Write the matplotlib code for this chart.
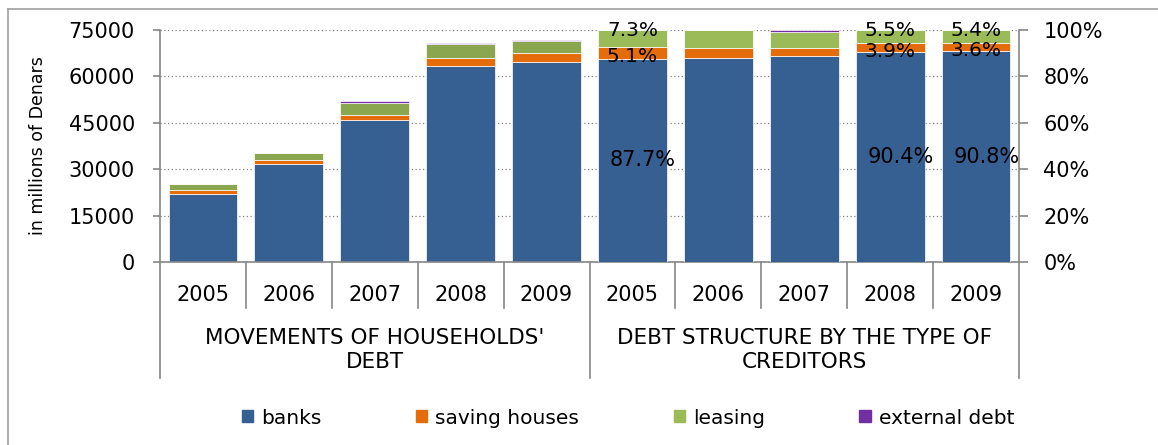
import matplotlib
matplotlib.use("Agg")
import matplotlib.pyplot as plt
from matplotlib.lines import Line2D
from matplotlib.patches import Patch
import matplotlib.transforms as mtransforms

years = ["2005", "2006", "2007", "2008", "2009"]
groups = ["MOVEMENTS OF HOUSEHOLDS'\nDEBT", "DEBT STRUCTURE BY THE TYPE OF\nCREDITORS"]
series = ["banks", "saving houses", "leasing", "external debt"]

# left part, millions of denars
banks_abs = [22000, 31600, 46000, 63300, 64600]
saving_abs = [1400, 1400, 1650, 2700, 2900]
leasing_abs = [1800, 2200, 3650, 4400, 3900]
external_abs = [50, 100, 750, 450, 300]

# right part, shares in %
banks_pct = [87.7, 88.0, 88.7, 90.4, 90.8]
saving_pct = [5.1, 4.4, 3.7, 3.9, 3.6]
leasing_pct = [7.3, 7.5, 6.9, 5.5, 5.4]
external_pct = [0.0, 0.1, 0.7, 0.2, 0.2]

# which shares get a label
labels_pct = {
    0: (87.7, 5.1, 7.3),
    3: (90.4, 3.9, 5.5),
    4: (90.8, 3.6, 5.4),
}

C_BANKS = "#376092"
C_SAVING = "#E46C0A"
C_LEASING_L = "#8AA64F"
C_LEASING_R = "#9BBB59"
C_EXTERNAL = "#7030A0"
GRAY = "#868686"

W, H = 1158, 445
fig = plt.figure(figsize=(W / 100, H / 100), dpi=100)
ax = fig.add_axes([160 / W, 1 - 262 / H, (1019 - 160) / W, 232 / H])
ax2 = ax.twinx()

x_left = list(range(5))
x_right = [i + 5 for i in range(5)]
bw = 0.8
ek = dict(edgecolor="white", linewidth=0.5)

bottom = [0] * 5
for vals, col in [(banks_abs, C_BANKS), (saving_abs, C_SAVING),
                  (leasing_abs, C_LEASING_L), (external_abs, C_EXTERNAL)]:
    ax.bar(x_left, vals, bw, bottom=bottom, color=col, **ek)
    bottom = [b + v for b, v in zip(bottom, vals)]

bottom = [0] * 5
for vals, col in [(banks_pct, C_BANKS), (saving_pct, C_SAVING),
                  (leasing_pct, C_LEASING_R), (external_pct, C_EXTERNAL)]:
    ax2.bar(x_right, vals, bw, bottom=bottom, color=col, **ek)
    bottom = [b + v for b, v in zip(bottom, vals)]

for i, (b, s, l) in labels_pct.items():
    x = x_right[i]
    ax2.text(x + 0.12, b / 2, f"{b}%", ha="center", va="center", fontsize=15)
    ax2.text(x, b + s / 2 - 1.5, f"{s}%", ha="center", va="center", fontsize=14.5)
    ax2.text(x, 99.6, f"{l}%", ha="center", va="center", fontsize=14.5)

ax.set_xlim(-0.5, 9.5)
ax.set_ylim(0, 75000)
ax2.set_ylim(0, 100)
ax.set_yticks(range(0, 75001, 15000))
ax2.set_yticks(range(0, 101, 20))
ax2.set_yticklabels([f"{v}%" for v in range(0, 101, 20)])
ax.set_xticks([])

ax.grid(axis="y", color="#808080", linestyle=(0, (1, 2)), linewidth=0.9)
ax.set_axisbelow(True)

for a in (ax, ax2):
    a.spines["top"].set_visible(False)
    for s in a.spines.values():
        s.set_color(GRAY)
        s.set_linewidth(1.2)
ax.spines["right"].set_visible(False)
ax2.spines["left"].set_visible(False)
ax2.spines["bottom"].set_visible(False)

ax.tick_params(axis="y", length=5, width=1.2, color=GRAY, labelsize=15, pad=13)
ax2.tick_params(axis="y", length=6.5, width=1.2, color=GRAY, labelsize=15, pad=11)

# category axis: years, groups, separators
tr = mtransforms.blended_transform_factory(ax.transData, ax.transAxes)
for i in range(10):
    ax.text(i, -0.142, years[i % 5], transform=tr, ha="center", va="center", fontsize=15)
for k in range(9):
    if k == 4:
        continue
    ax.add_line(Line2D([k + 0.5, k + 0.5], [0, -0.198], transform=tr,
                       color=GRAY, linewidth=1.2, clip_on=False))
for xs in (-0.5, 4.5, 9.5):
    ax.add_line(Line2D([xs, xs], [0, -0.5], transform=tr,
                       color=GRAY, linewidth=1.2, clip_on=False))
ax.text(2, -0.379, groups[0], transform=tr, ha="center", va="center",
        fontsize=15.5, linespacing=1.2)
ax.text(7, -0.379, groups[1], transform=tr, ha="center", va="center",
        fontsize=15.5, linespacing=1.2)

fig.text(38 / W, 1 - 146 / H, "in millions of Denars", rotation=90,
         ha="center", va="center", fontsize=12.5)

handles = [Patch(color=c) for c in (C_BANKS, C_SAVING, C_LEASING_R, C_EXTERNAL)]
fig.legend(handles, series, loc="center", bbox_to_anchor=(628 / W, 1 - 418 / H),
           ncol=4, frameon=False, fontsize=14.5, handlelength=0.55, handleheight=0.55,
           handletextpad=0.4, columnspacing=4.7)

# outer frame
fig.add_artist(Line2D([8 / W, 8 / W], [0, 1 - 9 / H], transform=fig.transFigure,
                      color="#a0a0a0", linewidth=1.2))
fig.add_artist(Line2D([8 / W, 1], [1 - 9 / H, 1 - 9 / H], transform=fig.transFigure,
                      color="#a0a0a0", linewidth=1.2))

fig.savefig("out.png", dpi=100)
